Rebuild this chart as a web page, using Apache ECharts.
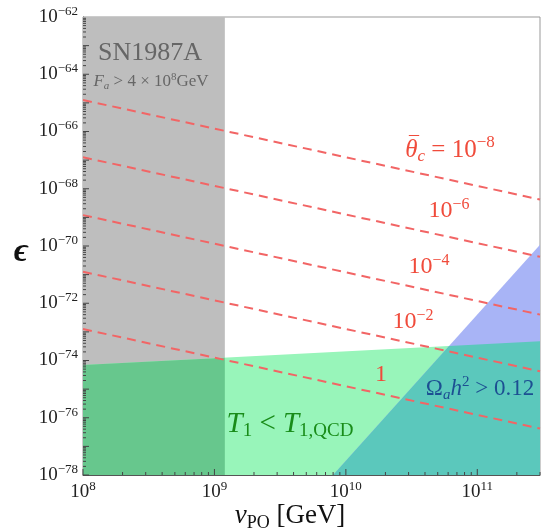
<!DOCTYPE html>
<html>
<head>
<meta charset="utf-8">
<script src="https://cdn.jsdelivr.net/npm/echarts@6/dist/echarts.min.js"></script>
<style>
  html, body { margin: 0; padding: 0; background: #fff; }
  #chart { width: 541px; height: 531px; }
</style>
</head>
<body>
<div id="chart"></div>
<script>
// axis ranges
const xRange = [1e8, 3e11]
const yRange = [1e-78, 1e-62]

// SN1987A excluded band (right edge)
const snEdge = 1.2e9
// T1 < T1,QCD boundary, end points
const qcdLine = [[1e8, 6.9e-75], [3e11, 4.7e-74]]
// Omega h^2 > 0.12 boundary, end points
const relicLine = [[8e9, 1e-78], [3e11, 1.1e-70]]

// theta_c contours (value at left and right edge)
const thetaNames = ['1e-8', '1e-6', '1e-4', '1e-2', '1']
const thetaLeft = [1.26e-65, 1.26e-67, 1.2e-69, 1.26e-71, 1.26e-73]
const thetaRight = [4.2e-69, 4.2e-71, 4.0e-73, 4.2e-75, 4.2e-77]

const FONT = 'Liberation Serif'
const RED = '#f04b3b'
const chart = echarts.init(document.getElementById('chart'))

// echarts' log axis can't cope with 1e-78, so the axes are plain value axes in log10 space
const lg = Math.log10
const L = (p) => [lg(p[0]), lg(p[1])]

// point on a straight (log-log) boundary at a given x
const onLine = (line, x) => {
  const [[xa, ya], [xb, yb]] = line.map(L)
  return ya + (lg(x) - xa) / (xb - xa) * (yb - ya)
}
// crossing of two boundaries (log space)
const crossing = (a, b) => {
  const f = (l) => {
    const [[xa, ya], [xb, yb]] = l.map(L)
    const s = (yb - ya) / (xb - xa)
    return [s, ya - s * xa]
  }
  const [sa, ca] = f(a), [sb, cb] = f(b)
  const lx = (cb - ca) / (sa - sb)
  return [lx, sa * lx + ca]
}

const [x0, x1] = xRange.map(lg), [y0, y1] = yRange.map(lg)
const sn = lg(snEdge)
const qcd = qcdLine.map(L), relic = relicLine.map(L)
const regions = [
  { color: '#bebebe', pts: [[x0, y0], [sn, y0], [sn, y1], [x0, y1]] },
  { color: '#98f5ba', pts: [[x0, y0], [x1, y0], qcd[1], qcd[0]] },
  { color: '#67c78d', pts: [[x0, y0], [sn, y0], [sn, onLine(qcdLine, snEdge)], qcd[0]] },
  { color: '#a8b4f6', pts: [relic[0], relic[1], [x1, y0]] },
  { color: '#5bc8bc', pts: [relic[0], crossing(qcdLine, relicLine), qcd[1], [x1, y0]] }
]

// tick marks: decades + 2..9 minors, [x, y, length, side]
const ticks = []
for (let e = 8; e <= 11; e++) {
  for (let m = 1; m <= 9; m++) {
    const v = e + lg(m)
    if (v > x1) break
    ticks.push([v, y0, m === 1 ? 6 : 3, 0])
  }
}
for (let e = -78; e < -62; e++) {
  for (let m = 1; m <= 9; m++) {
    ticks.push([x0, e + lg(m), m === 1 ? 6 : 3, 1])
  }
}

const powLabel = (v) => {
  if (Math.abs(v - Math.round(v)) > 1e-6) return ''
  return '{b|10}{s|' + String(Math.round(v)).replace('-', '\u2212') + '}'
}
const labelRich = {
  b: { fontFamily: FONT, fontSize: 19, color: '#222' },
  s: { fontFamily: FONT, fontSize: 13, color: '#222', padding: [0, 0, 11, 0] }
}

// rich styles for the annotations
const mathRich = (size, color) => ({
  i: { fontFamily: FONT, fontStyle: 'italic', fontSize: size, fill: color },
  n: { fontFamily: FONT, fontSize: size, fill: color },
  sub: { fontFamily: FONT, fontSize: Math.round(size * 0.66), fill: color, padding: [Math.round(size * 0.5), 0, 0, 0] },
  isub: { fontFamily: FONT, fontStyle: 'italic', fontSize: Math.round(size * 0.66), fill: color, padding: [Math.round(size * 0.5), 0, 0, 0] },
  sup: { fontFamily: FONT, fontSize: Math.round(size * 0.66), fill: color, padding: [0, 0, Math.round(size * 0.55), 0] }
})
const label = (x, y, text, size, color) => ({
  type: 'text', x: x, y: y, z: 10,
  style: { text: text, textAlign: 'center', textVerticalAlign: 'middle', rich: mathRich(size, color) }
})

const option = {
  animation: false,
  backgroundColor: '#fff',
  grid: { left: 83, right: 1, top: 17, bottom: 56, show: true, borderColor: '#999', borderWidth: 1, backgroundColor: 'transparent' },
  xAxis: {
    type: 'value', min: x0, max: x1, interval: 1,
    axisLine: { lineStyle: { color: '#555' } },
    axisTick: { show: false },
    splitLine: { show: false },
    axisLabel: { formatter: powLabel, rich: labelRich, margin: 5, showMaxLabel: false }
  },
  yAxis: {
    type: 'value', min: y0, max: y1, interval: 2,
    axisLine: { show: true, lineStyle: { color: '#555' } },
    axisTick: { show: false },
    splitLine: { show: false },
    axisLabel: { formatter: powLabel, rich: labelRich, margin: 5 }
  },
  series: [
    {
      type: 'custom',
      silent: true,
      clip: true,
      z: 1,
      data: regions.map(r => r.pts[0]),
      renderItem: (params, api) => {
        const r = regions[params.dataIndex]
        return { type: 'polygon', shape: { points: r.pts.map(p => api.coord(p)) }, style: { fill: r.color } }
      }
    },
    ...thetaNames.map((n, i) => ({
      type: 'line',
      name: n,
      silent: true,
      z: 3,
      symbol: 'none',
      data: [[x0, lg(thetaLeft[i])], [x1, lg(thetaRight[i])]],
      lineStyle: { color: '#f26565', width: 2, type: [9, 6] }
    })),
    {
      type: 'custom',
      silent: true,
      z: 4,
      data: ticks,
      renderItem: (params, api) => {
        const t = ticks[params.dataIndex]
        const p = api.coord([t[0], t[1]])
        const shape = t[3] === 0
          ? { x1: p[0], y1: p[1], x2: p[0], y2: p[1] - t[2] }
          : { x1: p[0], y1: p[1], x2: p[0] + t[2], y2: p[1] }
        return { type: 'line', shape: shape, style: { stroke: '#444', lineWidth: 1 } }
      }
    }
  ],
  graphic: [
    {
      type: 'text', x: 150, y: 53, z: 10,
      style: { text: 'SN1987A', font: '26px "Liberation Serif"', fill: '#666', textAlign: 'center', textVerticalAlign: 'middle' }
    },
    label(151, 82, '{i|F}{isub|a}{n| > 4 \u00d7 10}{sup|8}{n|GeV}', 17, '#666'),
    label(450, 150, '{i|\u03b8}{isub|c}{n| = 10}{sup|\u22128}', 25, RED),
    {
      type: 'text', x: 414, y: 146, z: 11,
      style: { text: '\u00af', font: '20px "Liberation Serif"', fill: RED, textAlign: 'center', textVerticalAlign: 'middle' }
    },
    label(449, 211, '{n|10}{sup|\u22126}', 24, RED),
    label(429, 267, '{n|10}{sup|\u22124}', 24, RED),
    label(413, 322, '{n|10}{sup|\u22122}', 24, RED),
    label(381, 375, '{n|1}', 24, RED),
    label(480, 389, '{n|\u03a9}{isub|a}{i|h}{sup|2}{n| > 0.12}', 23, '#1c4f92'),
    label(290, 424, '{i|T}{sub|1}{n| < }{i|T}{sub|1,QCD}', 29, '#198c19'),
    {
      type: 'text', x: 21, y: 252, z: 10,
      style: { text: '\u03f5', font: 'italic bold 34px "Liberation Serif"', fill: '#111', textAlign: 'center', textVerticalAlign: 'middle' }
    },
    label(290, 516, '{i|v}{sub|PO}{n| [GeV]}', 27, '#111')
  ]
}

chart.setOption(option)
</script>
</body>
</html>
